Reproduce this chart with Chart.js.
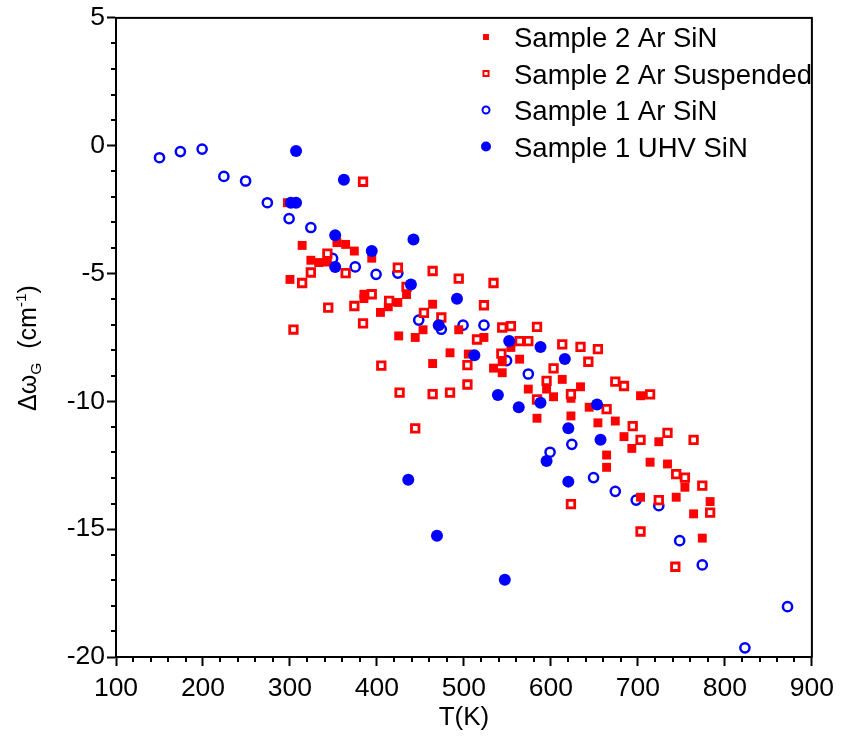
<!DOCTYPE html>
<html>
<head>
<meta charset="utf-8">
<script src="https://cdn.jsdelivr.net/npm/chart.js@4.4.1/dist/chart.umd.min.js"></script>
<style>
  html, body { margin: 0; padding: 0; background: #fff; }
  #wrap { width: 841px; height: 740px; }
</style>
</head>
<body>
<div id="wrap"><canvas id="chart" width="841" height="740"></canvas></div>
<script>
// Sample 2, Ar, on SiN (filled red squares)
const s2ArSiN_T = [297, 314, 354, 364, 374, 394, 324, 333, 343, 300,
  385, 385, 424, 434, 404, 413, 464, 453, 494, 444,
  425, 523, 484, 505, 464, 544, 554, 564, 534, 544,
  574, 595, 613, 634, 603, 623, 584, 623, 584, 644,
  654, 674, 703, 684, 693, 724, 664, 664, 714, 734,
  754, 744, 703, 783, 764, 774];
const s2ArSiN_dw = [-2.23, -3.9, -3.79, -3.86, -4.12, -4.4, -4.48, -4.57, -4.55, -5.23,
  -5.81, -5.98, -6.13, -5.82, -6.52, -6.3, -6.2, -7.2, -7.2, -7.5,
  -7.44, -7.5, -8.1, -8.15, -8.52, -8.45, -7.89, -8.35, -8.7, -8.88,
  -9.52, -9.52, -9.14, -9.43, -9.82, -9.88, -9.95, -10.57, -10.66, -10.23,
  -10.84, -10.77, -9.78, -11.38, -11.84, -11.58, -12.1, -12.58, -12.38, -12.45,
  -13.36, -13.75, -13.75, -13.92, -14.4, -15.35];

// Sample 2, Ar, suspended (open red squares)
const s2ArSusp_T = [384, 343, 324, 314, 364, 424, 464, 494, 534, 394,
  523, 344, 374, 414, 434, 384, 474, 454, 304, 544,
  554, 584, 515, 564, 574, 613, 634, 654, 643, 543,
  504, 603, 595, 504, 484, 464, 426, 623, 584, 674,
  684, 714, 664, 694, 444, 703, 734, 764, 744, 754,
  774, 724, 783, 623, 703, 743, 405];
const s2ArSusp_dw = [-1.41, -4.22, -4.96, -5.37, -4.98, -4.77, -4.9, -5.2, -5.37, -5.81,
  -6.24, -6.33, -6.27, -6.07, -5.52, -6.95, -6.72, -6.54, -7.19, -7.11,
  -7.06, -7.09, -7.58, -7.64, -7.64, -7.77, -7.87, -7.96, -8.45, -8.13,
  -8.58, -8.71, -9.2, -9.34, -9.66, -9.72, -9.66, -9.72, -9.92, -9.23,
  -9.4, -9.73, -10.3, -10.97, -11.06, -11.51, -11.23, -11.51, -12.85, -12.98,
  -13.3, -13.86, -14.35, -14.02, -15.09, -16.47, -8.6];

// Sample 1, Ar, on SiN (open blue circles)
const s1ArSiN_T = [150, 174, 199, 224, 249, 274, 299, 324, 349, 375,
  399, 424, 448, 474, 499, 523, 549, 574, 599, 624,
  649, 674, 698, 724, 748, 774, 823, 872];
const s1ArSiN_dw = [-0.47, -0.23, -0.13, -1.2, -1.38, -2.23, -2.85, -3.2, -4.41, -4.74,
  -5.03, -4.98, -6.82, -7.18, -7.02, -7.02, -8.41, -8.93, -11.99, -11.68,
  -12.98, -13.52, -13.86, -14.08, -15.45, -16.4, -19.64, -18.03];

// Sample 1, UHV, on SiN (filled blue circles)
const s1UhvSiN_T = [307, 362, 301, 307, 352, 442, 394, 352, 439, 492,
  471, 552, 588, 616, 512, 539, 563, 588, 653, 620,
  657, 595, 620, 436, 469, 547];
const s1UhvSiN_dw = [-0.21, -1.33, -2.23, -2.23, -3.5, -3.67, -4.12, -4.74, -5.43, -5.99,
  -7.02, -7.64, -7.87, -8.34, -8.2, -9.75, -10.23, -10.05, -10.12, -11.05,
  -11.5, -12.33, -13.14, -13.07, -15.26, -16.98];

const seriesLabels = ['Sample 2 Ar SiN', 'Sample 2 Ar Suspended', 'Sample 1 Ar SiN', 'Sample 1 UHV SiN'];
const xTicks = { min: 100, max: 900, major: 100, minor: 20 };
const yTicks = { min: -20, max: 5, major: 5, minor: 1 };

const FONT = '"Liberation Sans", Arial, Helvetica, sans-serif';
const RED = '#ff0000';
const BLUE = '#0000ff';

function toPoints(xs, ys) {
  return xs.map((x, i) => ({ x: x, y: ys[i] }));
}

// inside-the-plot legend with small markers
const legendMarkers = [
  { pointStyle: 'rect', radius: 4.2, fill: RED, stroke: RED, lw: 0 },
  { pointStyle: 'rect', radius: 3.6, fill: '#fff', stroke: RED, lw: 2 },
  { pointStyle: 'circle', radius: 3.5, fill: '#fff', stroke: BLUE, lw: 2 },
  { pointStyle: 'circle', radius: 5, fill: BLUE, stroke: BLUE, lw: 0 }
];

const extras = {
  id: 'extras',
  afterDraw(chart) {
    const { ctx, chartArea: a, scales: { x, y } } = chart;
    ctx.save();

    // frame
    ctx.strokeStyle = '#000';
    ctx.lineWidth = 2;
    ctx.strokeRect(a.left, a.top, a.right - a.left, a.bottom - a.top);

    // minor ticks
    ctx.beginPath();
    for (let v = xTicks.min; v <= xTicks.max; v += xTicks.minor) {
      if (v % xTicks.major === 0) continue;
      const px = Math.round(x.getPixelForValue(v));
      ctx.moveTo(px, a.bottom);
      ctx.lineTo(px, a.bottom + 5);
    }
    for (let v = yTicks.min; v <= yTicks.max; v += yTicks.minor) {
      if (v % yTicks.major === 0) continue;
      const py = Math.round(y.getPixelForValue(v));
      ctx.moveTo(a.left, py);
      ctx.lineTo(a.left - 5, py);
    }
    ctx.stroke();

    // legend
    ctx.textBaseline = 'alphabetic';
    ctx.textAlign = 'left';
    ctx.fillStyle = '#000';
    ctx.font = '27.5px ' + FONT;
    const rowY = [37, 73.5, 110, 146.5];
    seriesLabels.forEach((label, i) => {
      const m = legendMarkers[i];
      const style = {
        pointStyle: m.pointStyle, radius: m.radius, rotation: 0,
        borderWidth: m.lw
      };
      ctx.save();
      ctx.fillStyle = m.fill;
      ctx.strokeStyle = m.stroke;
      ctx.lineWidth = m.lw;
      Chart.helpers.drawPoint(ctx, style, 486, rowY[i]);
      ctx.restore();
      ctx.fillText(label, 514, rowY[i] + 10);
    });

    // y axis title: Δω_G (cm^-1)
    ctx.translate(36, 411);
    ctx.rotate(-Math.PI / 2);
    let cx = 0;
    const seg = (text, size, dy) => {
      ctx.font = size + 'px ' + FONT;
      ctx.fillText(text, cx, dy);
      cx += ctx.measureText(text).width;
    };
    seg('\u0394\u03c9', 25, 0);
    seg('G', 15.5, 5);
    seg('  (cm', 25, 0);
    seg('-1', 15.5, -10);
    seg(')', 25, 0);

    ctx.restore();
  }
};

new Chart(document.getElementById('chart'), {
  type: 'scatter',
  data: {
    datasets: [
      {
        label: seriesLabels[0],
        data: toPoints(s2ArSiN_T, s2ArSiN_dw),
        pointStyle: 'rect',
        pointRadius: 6.3,
        backgroundColor: RED,
        borderColor: RED,
        borderWidth: 0,
        order: 2
      },
      {
        label: seriesLabels[1],
        data: toPoints(s2ArSusp_T, s2ArSusp_dw),
        pointStyle: 'rect',
        pointRadius: 5.3,
        backgroundColor: '#fff',
        borderColor: RED,
        borderWidth: 2.8,
        order: 1
      },
      {
        label: seriesLabels[2],
        data: toPoints(s1ArSiN_T, s1ArSiN_dw),
        pointStyle: 'circle',
        pointRadius: 4.6,
        backgroundColor: '#fff',
        borderColor: BLUE,
        borderWidth: 2.5,
        order: 3
      },
      {
        label: seriesLabels[3],
        data: toPoints(s1UhvSiN_T, s1UhvSiN_dw),
        pointStyle: 'circle',
        pointRadius: 6,
        backgroundColor: BLUE,
        borderColor: BLUE,
        borderWidth: 0,
        order: 0
      }
    ]
  },
  options: {
    responsive: false,
    animation: false,
    devicePixelRatio: 1,
    clip: false,
    layout: { padding: { left: 0, right: 26, top: 17, bottom: 0 } },
    plugins: {
      legend: { display: false },
      tooltip: { enabled: false }
    },
    scales: {
      x: {
        type: 'linear',
        min: xTicks.min,
        max: xTicks.max,
        afterFit: (scale) => { scale.height = 83; },
        ticks: {
          stepSize: xTicks.major,
          color: '#000',
          font: { family: FONT, size: 26.5 },
          padding: 7,
          maxRotation: 0
        },
        grid: {
          drawOnChartArea: false,
          drawTicks: true,
          tickLength: 9,
          tickWidth: 2,
          tickColor: '#000'
        },
        border: { display: true, color: '#000', width: 2 },
        title: {
          display: true,
          text: 'T(K)',
          color: '#000',
          font: { family: FONT, size: 26 },
          padding: { top: 0, bottom: 7 }
        }
      },
      y: {
        type: 'linear',
        min: yTicks.min,
        max: yTicks.max,
        afterFit: (scale) => { scale.width = 116; },
        ticks: {
          stepSize: yTicks.major,
          color: '#000',
          font: { family: FONT, size: 26.5 },
          padding: 2
        },
        grid: {
          drawOnChartArea: false,
          drawTicks: true,
          tickLength: 9,
          tickWidth: 2,
          tickColor: '#000'
        },
        border: { display: true, color: '#000', width: 2 }
      }
    }
  },
  plugins: [extras]
});
</script>
</body>
</html>
